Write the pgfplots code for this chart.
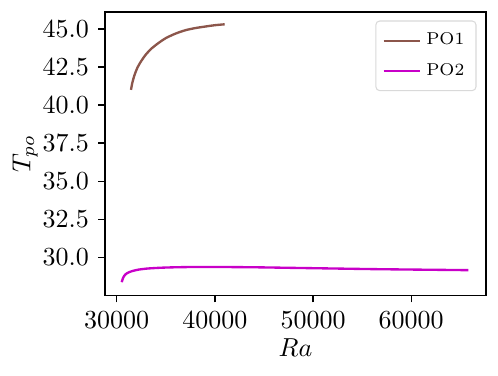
\documentclass[border=0pt]{standalone}
\usepackage{pgfplots}
\pgfplotsset{compat=1.18}
\usetikzlibrary{calc}
\definecolor{poA}{HTML}{8C564B}
\definecolor{poB}{RGB}{200,0,200}

\begin{document}
\begin{tikzpicture}
\begin{axis}[
	scale only axis,
	width=146.5pt,
	height=109pt,
	xmin=28810, xmax=67630,
	ymin=27.49, ymax=46.12,
	xtick={30000,40000,50000,60000},
	ytick={30,32.5,35,37.5,40,42.5,45},
	scaled x ticks=false,
	xticklabel style={/pgf/number format/1000 sep={}},
	yticklabel style={/pgf/number format/.cd,fixed,fixed zerofill,precision=1},
	tick align=outside,
	tick pos=left,
	major tick length=2.7pt,
	axis line style={line width=0.6pt},
	every tick/.style={black, line width=0.5pt},
	xlabel={$Ra$},
	ylabel={$T_{po}$},
	xlabel style={yshift=3pt},
	ylabel style={yshift=-5pt},
	legend style={at={(0.975,0.97)}, anchor=north east, draw=black!15, rounded corners=1.5pt,
		font=\fontsize{6.6}{8}\selectfont, row sep=1.5pt, inner sep=2.5pt},
	legend cell align=left,
	legend image code/.code={\draw[#1, line width=0.9pt] (0pt,0pt) -- (14pt,0pt);},
]
\addplot[poA, line width=0.9pt, smooth] coordinates {
	(31450,41.00) (31600,41.50) (31800,41.95) (32100,42.45) (32500,42.90)
	(33000,43.35) (33600,43.75) (34300,44.10) (35000,44.40) (36000,44.70)
	(37000,44.92) (38000,45.06) (39000,45.16) (40000,45.25) (41000,45.31)
};
\addlegendentry{PO1}
\addplot[poB, line width=0.9pt, smooth] coordinates {
	(30510,28.36) (30650,28.65) (30900,28.88) (31300,29.03) (32000,29.16)
	(33000,29.25) (34500,29.31) (36000,29.34) (38000,29.36) (40000,29.36)
	(44000,29.34) (48000,29.30) (52000,29.26) (56000,29.22) (60000,29.19)
	(63000,29.17) (65840,29.15)
};
\addlegendentry{PO2}
\end{axis}
\path ($(current axis.south west)+(-40.4pt,-30.6pt)$) rectangle ($(current axis.north east)+(4.6pt,4.6pt)$);
\end{tikzpicture}
\end{document}
